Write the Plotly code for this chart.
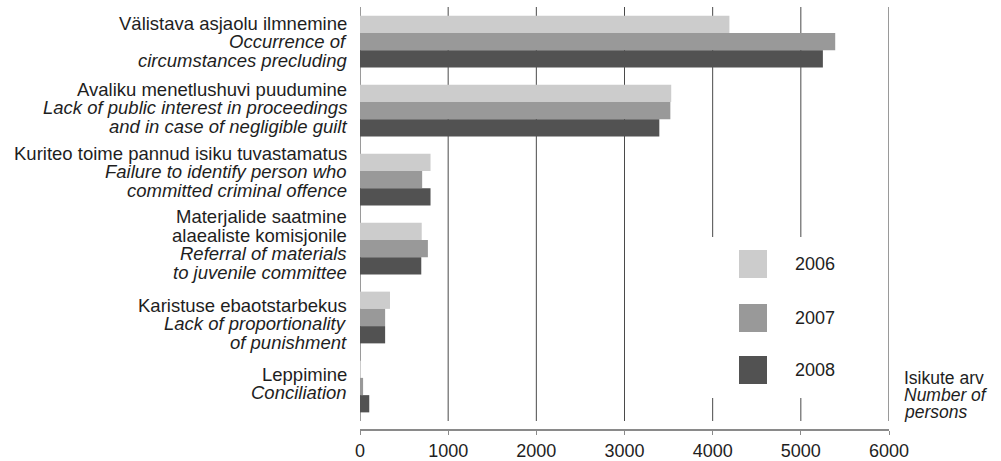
import plotly.graph_objects as go

# andmed / data
categories = ["Välistava asjaolu ilmnemine", "Avaliku menetlushuvi puudumine",
              "Kuriteo toime pannud isiku tuvastamatus", "Materjalide saatmine",
              "Karistuse ebaotstarbekus", "Leppimine"]
years = ["2006", "2007", "2008"]
v2006 = [4190, 3530, 800, 700, 340, 10]
v2007 = [5390, 3520, 705, 770, 285, 35]
v2008 = [5250, 3395, 800, 695, 285, 105]
xticks = [0, 1000, 2000, 3000, 4000, 5000, 6000]

# label lines: (estonian lines, english lines)
label_lines = [
    (["Välistava asjaolu ilmnemine"], ["Occurrence of", "circumstances precluding"]),
    (["Avaliku menetlushuvi puudumine"], ["Lack of public interest in proceedings", "and in case of negligible guilt"]),
    (["Kuriteo toime pannud isiku tuvastamatus"], ["Failure to identify person who", "committed criminal offence"]),
    (["Materjalide saatmine", "alaealiste komisjonile"], ["Referral of materials", "to juvenile committee"]),
    (["Karistuse ebaotstarbekus"], ["Lack of proportionality", "of punishment"]),
    (["Leppimine"], ["Conciliation"]),
]
unit_lines = ["Isikute arv", "<i>Number of</i>", "<i>persons</i>"]

colors = ["#cccccc", "#999999", "#525252"]
FONT = "Liberation Sans, Arial, sans-serif"
TXT = "#1e1e1e"

# plot area in pixels
PX0, PX1, PY0, PY1 = 360, 889, 7, 429
GRID_BOT = 421
unit = (GRID_BOT - PY0) / len(categories)


def px(x):
    return (x - PX0) / (PX1 - PX0)


def py(y):
    return (PY1 - y) / (PY1 - PY0)


fig = go.Figure()
for name, vals, c in zip(years, [v2006, v2007, v2008], colors):
    fig.add_trace(go.Bar(y=categories, x=vals, name=name, orientation="h",
                         marker=dict(color=c, line=dict(width=0)),
                         showlegend=False, hoverinfo="x+name"))

shapes = []
# ruudustik / grid
for t in xticks:
    outer = t in (xticks[0], xticks[-1])
    shapes.append(dict(type="line", xref="x", yref="paper", x0=t, x1=t,
                       y0=py(GRID_BOT), y1=1, layer="below",
                       line=dict(color="#9a9a9a" if outer else "#4a4a4a",
                                 width=2 if outer else 1)))
# white box behind legend
shapes.append(dict(type="rect", xref="paper", yref="paper", x0=px(700), x1=px(840),
                   y0=py(398), y1=py(237), fillcolor="white", line=dict(width=0),
                   layer="above"))

annotations = []
# manual legend
leg_y = [264, 318, 370]
for name, c, yc in zip(years, colors, leg_y):
    shapes.append(dict(type="rect", xref="paper", yref="paper",
                       x0=px(739), x1=px(767), y0=py(yc + 14), y1=py(yc - 14),
                       fillcolor=c, line=dict(width=0), layer="above"))
    annotations.append(dict(xref="paper", yref="paper", x=px(793), y=py(yc),
                            xanchor="left", yanchor="middle", text=name, showarrow=False,
                            font=dict(size=18, color=TXT, family=FONT)))

# category labels, one annotation per line
offsets = [0, 3, 8, 4, -6, 3]
LS = 18.5
for cat, (est, eng), off in zip(categories, label_lines, offsets):
    lines = est + ["<i>%s</i>" % s for s in eng]
    n = len(lines)
    for i, s in enumerate(lines):
        annotations.append(dict(xref="paper", yref="y", x=0, y=cat, xanchor="right",
                                yanchor="middle", xshift=-11,
                                yshift=off + ((n - 1) / 2 - i) * LS,
                                text=s, showarrow=False,
                                font=dict(size=18.5, color=TXT, family=FONT)))

# unit label
for i, s in enumerate(unit_lines):
    annotations.append(dict(xref="paper", yref="paper", x=px(902), y=py(378 + i * 17),
                            xanchor="left", yanchor="middle", text=s, showarrow=False,
                            font=dict(size=17.5, color=TXT, family=FONT)))

fig.update_layout(
    width=1001, height=461,
    margin=dict(l=PX0, r=1001 - PX1, t=PY0, b=461 - PY1),
    paper_bgcolor="white", plot_bgcolor="white",
    barmode="group", bargap=0.25, bargroupgap=0,
    font=dict(family=FONT, size=18, color=TXT),
    xaxis=dict(range=[0, 6000], tickvals=xticks, showgrid=False, zeroline=False,
               showline=True, linecolor="#8a8a8a", linewidth=2, automargin=False,
               ticks="outside", ticklen=4, tickcolor="#8a8a8a", tickwidth=1,
               tickfont=dict(size=18, color=TXT)),
    yaxis=dict(type="category", categoryorder="array", categoryarray=categories,
               range=[len(categories) - 0.5 + (PY1 - GRID_BOT) / unit, -0.5],
               showticklabels=False, showgrid=False, automargin=False,
               zeroline=False, showline=False, ticks=""),
    shapes=shapes, annotations=annotations,
)

fig.write_html("out.html", config={"displayModeBar": False},
               post_script="document.body.style.margin='0';")
